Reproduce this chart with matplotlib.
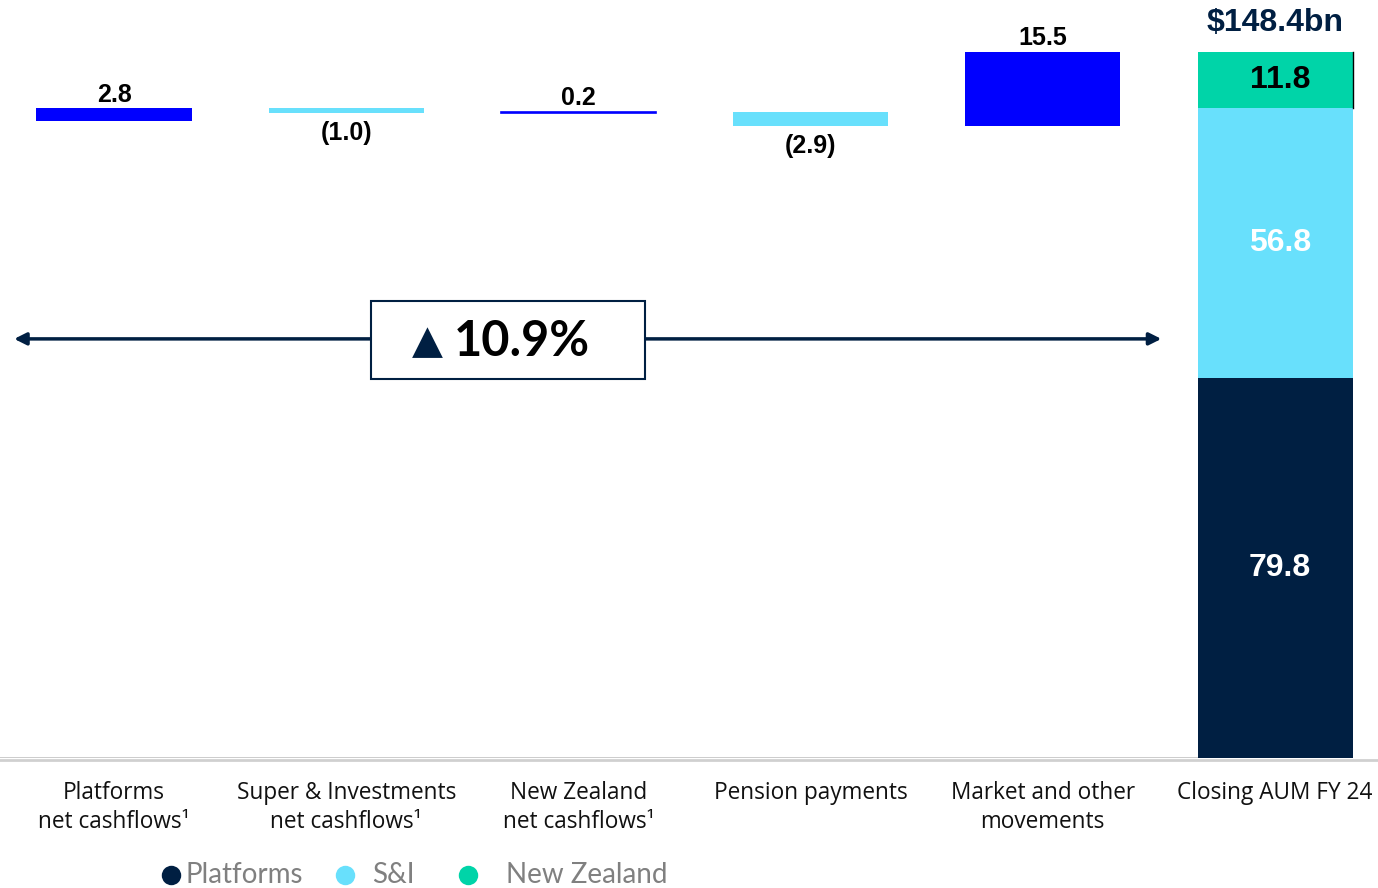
import matplotlib
matplotlib.use("Agg")
import matplotlib.pyplot as plt
from matplotlib.lines import Line2D
from matplotlib.patches import Rectangle
import numpy as np

# ---- data ----
categories = ["Platforms\nnet cashflows\u00b9", "Super & Investments\nnet cashflows\u00b9",
              "New Zealand\nnet cashflows\u00b9", "Pension payments",
              "Market and other\nmovements", "Closing AUM FY 24"]
opening_aum = 133.8
changes = [2.8, -1.0, 0.2, -2.9, 15.5]
change_labels = ["2.8", "(1.0)", "0.2", "(2.9)", "15.5"]
closing_segments = ["Platforms", "S&I", "New Zealand"]
closing_values = [79.8, 56.8, 11.8]
closing_label = "$148.4bn"
growth_label = "10.9%"

# ---- styles ----
BLUE = "#0000FF"
CYAN = "#68E0FC"
GREEN = "#00D4A8"
NAVY = "#001F42"
change_colors = [BLUE, CYAN, BLUE, CYAN, BLUE]
seg_colors = [NAVY, CYAN, GREEN]
seg_text_colors = ["white", "white", "black"]

W, H = 1378, 888
fig = plt.figure(figsize=(W / 100, H / 100), dpi=100)
ax = fig.add_axes([0, (H - 758) / H, 1, 758 / H])
ax.set_xlim(-0.491, 5.443)
ax.set_ylim(0, 159.3)
ax.axis("off")

bw = 0.668
x = np.arange(len(categories))
VAL_FONT = dict(fontsize=18, fontweight="bold", family="Liberation Sans", color="black")

# waterfall
level = opening_aum
for i, (v, lab, c) in enumerate(zip(changes, change_labels, change_colors)):
    bottom = level if v >= 0 else level + v
    h = abs(v)
    ax.bar(x[i], h, bottom=bottom, width=bw, color=c, zorder=3,
           linewidth=0 if h > 0.3 else 1.2, edgecolor=c)
    if v >= 0:
        ax.annotate(lab, (x[i], level + v), xytext=(0, 1), textcoords="offset points",
                    ha="center", va="bottom", **VAL_FONT)
    else:
        ax.annotate(lab, (x[i], level + v), xytext=(0, -6), textcoords="offset points",
                    ha="center", va="top", **VAL_FONT)
    level += v

# closing stacked bar
bottom = 0
for v, c, tc in zip(closing_values, seg_colors, seg_text_colors):
    ax.bar(x[5], v, bottom=bottom, width=bw, color=c, zorder=3, linewidth=0)
    ax.text(x[5] + 0.02, bottom + v / 2, f"{v:.1f}", ha="center", va="center",
            fontsize=23, fontweight="bold", family="Liberation Sans", color=tc, zorder=4)
    bottom += v
ax.annotate(closing_label, (x[5], bottom), xytext=(0, 10), textcoords="offset points",
            ha="center", va="bottom", fontsize=23, fontweight="bold",
            family="Liberation Sans", color=NAVY)
ax.plot([x[5] + bw / 2] * 2, [bottom - closing_values[2], bottom], color="black", lw=1, zorder=4)

# baseline
ax.plot([-0.491, 4.9], [0, 0], color="black", lw=1, zorder=2)
fig.add_artist(Line2D([0, 1], [(H - 759.5) / H] * 2, color="#D0D0D0", lw=2))

# growth arrow
ya = (758 - 339) / 4.757
ax.annotate("", xy=(-0.43, ya), xytext=(4.51, ya),
            arrowprops=dict(arrowstyle="<|-|>", color=NAVY, lw=2.5,
                            mutation_scale=18, shrinkA=0, shrinkB=0), zorder=2)
fig.add_artist(Rectangle((371 / W, 1 - 379 / H), (645 - 371) / W, 78 / H,
                         transform=fig.transFigure, fc="white", ec=NAVY, lw=1.5, zorder=5))
fig.text(427 / W, 1 - 342 / H, "\u25B2", ha="center", va="center", fontsize=29,
         color=NAVY, family="DejaVu Sans", zorder=6)
fig.text(522 / W, 1 - 341 / H, growth_label, ha="center", va="center", fontsize=35,
         fontweight="bold", color="black", family="Lato", zorder=6)

# category labels
for i, cat in enumerate(categories):
    fig.text((114 + 232.2 * i) / W, 1 - 781 / H, cat, ha="center", va="top",
             fontsize=16.3, family="Open Sans", color="#111111", linespacing=1.28)

# legend
leg_marker_x = [171, 345, 468]
leg_text_x = [185, 372, 506]
for mx, tx, name, c in zip(leg_marker_x, leg_text_x, closing_segments, seg_colors):
    fig.add_artist(Line2D([mx / W], [1 - 875 / H], marker="o", markersize=14,
                          color=c, markeredgewidth=0, linestyle="none"))
    fig.text(tx / W, 1 - 875 / H, name, ha="left", va="center", fontsize=20,
             family="Lato", color="#808080")

fig.savefig("out.png", dpi=100)
